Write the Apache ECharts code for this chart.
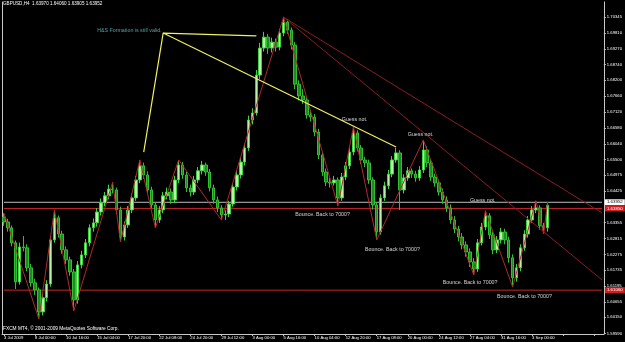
<!DOCTYPE html>
<html>
<head>
<meta charset="utf-8">
<script src="https://cdn.jsdelivr.net/npm/echarts@6/dist/echarts.min.js"></script>
<style>
  html, body { margin: 0; padding: 0; background: #000; }
  #main { width: 625px; height: 342px; }
</style>
</head>
<body>
<div id="main"></div>
<script>
// GBPUSD H4, one candle per 8 hours
var timeLabels = ['3 Jul 2009', '8 Jul 00:00', '10 Jul 16:00', '15 Jul 04:00', '17 Jul 20:00', '22 Jul 08:00',
  '24 Jul 20:00', '29 Jul 12:00', '3 Aug 00:00', '5 Aug 16:00', '10 Aug 04:00', '12 Aug 20:00',
  '17 Aug 08:00', '20 Aug 00:00', '24 Aug 12:00', '27 Aug 04:00', '31 Aug 16:00', '3 Sep 00:00'];

var priceTicks = ['1.70890', '1.70345', '1.69810', '1.69270', '1.68740', '1.68200', '1.67660', '1.67120',
  '1.66580', '1.66040', '1.65500', '1.64975', '1.64425', '1.63355', '1.62815', '1.62275', '1.61735',
  '1.61195', '1.60655', '1.60150', '1.59590'];

var opens = [1.6355, 1.6338, 1.6318, 1.6267, 1.6134, 1.6253, 1.6250, 1.6182, 1.6131, 1.6107,
  1.6032, 1.6080, 1.6127, 1.6277, 1.6352, 1.6297, 1.6243, 1.6209, 1.6168, 1.6073,
  1.6192, 1.6226, 1.6267, 1.6318, 1.6335, 1.6372, 1.6403, 1.6427, 1.6450, 1.6447,
  1.6379, 1.6287, 1.6328, 1.6379, 1.6420, 1.6481, 1.6529, 1.6498, 1.6447, 1.6396,
  1.6345, 1.6379, 1.6427, 1.6440, 1.6413, 1.6481, 1.6532, 1.6498, 1.6454, 1.6440,
  1.6481, 1.6512, 1.6532, 1.6508, 1.6454, 1.6413, 1.6386, 1.6362, 1.6365, 1.6399,
  1.6457, 1.6498, 1.6542, 1.6590, 1.6685, 1.6709, 1.6838, 1.6930, 1.6967, 1.6930,
  1.6950, 1.6933, 1.6981, 1.7018, 1.6991, 1.6940, 1.6807, 1.6767, 1.6753, 1.6702,
  1.6695, 1.6644, 1.6566, 1.6508, 1.6474, 1.6471, 1.6481, 1.6420, 1.6491, 1.6529,
  1.6576, 1.6641, 1.6590, 1.6549, 1.6539, 1.6481, 1.6396, 1.6304, 1.6420, 1.6461,
  1.6501, 1.6549, 1.6573, 1.6447, 1.6488, 1.6512, 1.6501, 1.6488, 1.6515, 1.6583,
  1.6539, 1.6491, 1.6471, 1.6440, 1.6413, 1.6386, 1.6345, 1.6314, 1.6287, 1.6260,
  1.6236, 1.6202, 1.6178, 1.6267, 1.6321, 1.6359, 1.6294, 1.6243, 1.6277, 1.6304,
  1.6277, 1.6216, 1.6148, 1.6182, 1.6250, 1.6297, 1.6345, 1.6379, 1.6386, 1.6325,
  1.6318];

var closes = [1.6338, 1.6318, 1.6267, 1.6134, 1.6253, 1.6250, 1.6182, 1.6131, 1.6107, 1.6032,
  1.6080, 1.6127, 1.6277, 1.6352, 1.6297, 1.6243, 1.6209, 1.6168, 1.6073, 1.6192,
  1.6226, 1.6267, 1.6318, 1.6335, 1.6372, 1.6403, 1.6427, 1.6450, 1.6447, 1.6379,
  1.6287, 1.6328, 1.6379, 1.6420, 1.6481, 1.6529, 1.6498, 1.6447, 1.6396, 1.6345,
  1.6379, 1.6427, 1.6440, 1.6413, 1.6481, 1.6532, 1.6498, 1.6454, 1.6440, 1.6481,
  1.6512, 1.6532, 1.6508, 1.6454, 1.6413, 1.6386, 1.6362, 1.6365, 1.6399, 1.6457,
  1.6498, 1.6542, 1.6590, 1.6685, 1.6709, 1.6838, 1.6930, 1.6967, 1.6930, 1.6950,
  1.6933, 1.6981, 1.7018, 1.6991, 1.6940, 1.6807, 1.6767, 1.6753, 1.6702, 1.6695,
  1.6644, 1.6566, 1.6508, 1.6474, 1.6471, 1.6481, 1.6420, 1.6491, 1.6529, 1.6576,
  1.6641, 1.6590, 1.6549, 1.6539, 1.6481, 1.6396, 1.6304, 1.6420, 1.6461, 1.6501,
  1.6549, 1.6573, 1.6447, 1.6488, 1.6512, 1.6501, 1.6488, 1.6515, 1.6583, 1.6539,
  1.6491, 1.6471, 1.6440, 1.6413, 1.6386, 1.6345, 1.6314, 1.6287, 1.6260, 1.6236,
  1.6202, 1.6178, 1.6267, 1.6321, 1.6359, 1.6294, 1.6243, 1.6277, 1.6304, 1.6277,
  1.6216, 1.6148, 1.6182, 1.6250, 1.6297, 1.6345, 1.6379, 1.6386, 1.6325, 1.6318,
  1.6395];

var lows = [1.6325, 1.6305, 1.6255, 1.6110, 1.6125, 1.6238, 1.6170, 1.6118, 1.6090, 1.6008,
  1.6020, 1.6068, 1.6118, 1.6268, 1.6285, 1.6230, 1.6195, 1.6155, 1.6036, 1.6060,
  1.6180, 1.6215, 1.6255, 1.6305, 1.6322, 1.6360, 1.6392, 1.6415, 1.6435, 1.6365,
  1.6270, 1.6275, 1.6318, 1.6368, 1.6410, 1.6470, 1.6485, 1.6435, 1.6385, 1.6318,
  1.6335, 1.6368, 1.6415, 1.6400, 1.6402, 1.6470, 1.6485, 1.6440, 1.6425, 1.6430,
  1.6470, 1.6500, 1.6495, 1.6442, 1.6400, 1.6372, 1.6345, 1.6345, 1.6355, 1.6390,
  1.6445, 1.6486, 1.6530, 1.6580, 1.6670, 1.6700, 1.6825, 1.6918, 1.6910, 1.6915,
  1.6918, 1.6922, 1.6970, 1.6978, 1.6925, 1.6790, 1.6752, 1.6740, 1.6690, 1.6680,
  1.6630, 1.6552, 1.6495, 1.6460, 1.6455, 1.6462, 1.6393, 1.6410, 1.6480, 1.6518,
  1.6565, 1.6578, 1.6535, 1.6525, 1.6468, 1.6380, 1.6277, 1.6295, 1.6410, 1.6450,
  1.6490, 1.6540, 1.6379, 1.6435, 1.6478, 1.6488, 1.6475, 1.6478, 1.6505, 1.6525,
  1.6478, 1.6458, 1.6428, 1.6400, 1.6372, 1.6332, 1.6300, 1.6272, 1.6245, 1.6220,
  1.6185, 1.6158, 1.6168, 1.6258, 1.6310, 1.6280, 1.6228, 1.6232, 1.6265, 1.6262,
  1.6200, 1.6117, 1.6135, 1.6170, 1.6240, 1.6285, 1.6335, 1.6368, 1.6312, 1.6297,
  1.6305];

var highs = [1.6368, 1.6349, 1.6326, 1.6275, 1.6268, 1.6290, 1.6262, 1.6195, 1.6145, 1.6115,
  1.6095, 1.6140, 1.6290, 1.6379, 1.6360, 1.6308, 1.6255, 1.6220, 1.6178, 1.6205,
  1.6240, 1.6280, 1.6330, 1.6350, 1.6385, 1.6418, 1.6440, 1.6465, 1.6474, 1.6455,
  1.6390, 1.6340, 1.6392, 1.6435, 1.6495, 1.6549, 1.6540, 1.6510, 1.6458, 1.6405,
  1.6392, 1.6440, 1.6455, 1.6452, 1.6495, 1.6549, 1.6542, 1.6508, 1.6465, 1.6495,
  1.6525, 1.6546, 1.6540, 1.6518, 1.6465, 1.6425, 1.6395, 1.6378, 1.6410, 1.6470,
  1.6512, 1.6556, 1.6605, 1.6700, 1.6725, 1.6855, 1.6948, 1.6985, 1.6978, 1.6965,
  1.6962, 1.6995, 1.7035, 1.7028, 1.7000, 1.6950, 1.6820, 1.6790, 1.6765, 1.6715,
  1.6705, 1.6655, 1.6575, 1.6520, 1.6488, 1.6495, 1.6490, 1.6505, 1.6542, 1.6590,
  1.6661, 1.6650, 1.6600, 1.6560, 1.6550, 1.6490, 1.6405, 1.6432, 1.6475, 1.6515,
  1.6562, 1.6590, 1.6582, 1.6500, 1.6525, 1.6520, 1.6512, 1.6528, 1.6617, 1.6595,
  1.6550, 1.6502, 1.6482, 1.6452, 1.6425, 1.6398, 1.6358, 1.6325, 1.6300, 1.6272,
  1.6248, 1.6215, 1.6280, 1.6335, 1.6376, 1.6368, 1.6305, 1.6290, 1.6318, 1.6315,
  1.6288, 1.6228, 1.6195, 1.6262, 1.6310, 1.6358, 1.6392, 1.6410, 1.6395, 1.6335,
  1.6406];

// zigzag swing points: [candle index, price]
var zigzag = [[0, 1.6368], [9, 1.6008], [13, 1.6379], [18, 1.6036], [28, 1.6474], [30, 1.6270],
  [35, 1.6549], [39, 1.6318], [45, 1.6549], [56, 1.6345], [72, 1.7035], [86, 1.6393],
  [90, 1.6661], [96, 1.6277], [108, 1.6617], [121, 1.6158], [124, 1.6376], [131, 1.6117],
  [137, 1.6410], [139, 1.6297], [140, 1.6406]];

var trendUpper = [[72, 1.7035], [154, 1.6369]];
var trendLower = [[72, 1.7035], [154, 1.6141]];
var shoulderLine = [[36, 1.6576], [41, 1.6981], [65, 1.6971]];
var neckLine = [[41, 1.6981], [101, 1.6593]];

var notes = [[24, 1.6988, 'H&S Formation is still valid.', '#5fc9c9'],
  [87, 1.6685, 'Guess not.', '#ffffff'],
  [104, 1.6637, 'Guess not.', '#ffffff'],
  [120, 1.6410, 'Guess not.', '#ffffff'],
  [75, 1.6365, 'Bounce. Back to 7000?', '#ffffff'],
  [93, 1.6243, 'Bounce. Back to 7000?', '#ffffff'],
  [113, 1.6131, 'Bounce. Back to 7000?', '#ffffff'],
  [127, 1.6083, 'Bounce. Back to 7000?', '#ffffff']];

// horizontal levels: price and the text of their box on the price scale
var bidPrice = 1.6405, bidText = '1.63952';
var redPrices = [1.6384, 1.6106];
var redTexts = ['1.63850', '1.61060'];

var slots = 155;
var cats = [];
for (var i = 0; i < slots; i++) cats.push(i);

var candles = opens.map(function (o, i) {
  return [o, closes[i], lows[i], highs[i]];
});

var font = 'Liberation Sans';
var yMin = 1.59568, yMax = 1.70866;

function levelSeries(price, text, lineColor, boxColor, textColor) {
  return {
    type: 'line',
    data: [[0, price], [slots - 1, price]],
    symbol: 'none',
    silent: true,
    z: 2,
    lineStyle: { color: lineColor, width: 1 },
    endLabel: {
      show: true,
      distance: 3,
      formatter: text,
      color: textColor,
      backgroundColor: boxColor,
      padding: [1, 2],
      fontSize: 4.4,
      fontFamily: font
    },
    labelLayout: { hideOverlap: false }
  };
}

var chart = echarts.init(document.getElementById('main'));
var option = {
  backgroundColor: '#000000',
  animation: false,
  title: [
    {
      text: 'GBPUSD,H4  1.63970 1.64060 1.63905 1.63952',
      left: 3, top: 1, padding: 0,
      textStyle: { color: '#ffffff', fontSize: 4.6, fontWeight: 'normal', fontFamily: font }
    },
    {
      text: 'FXCM MT4, © 2001-2009 MetaQuotes Software Corp.',
      left: 3, top: 326, padding: 0,
      textStyle: { color: '#ffffff', fontSize: 4.8, fontWeight: 'normal', fontFamily: font }
    }
  ],
  grid: { left: 2, right: 19, top: 2, bottom: 8 },
  xAxis: {
    type: 'category',
    data: cats,
    boundaryGap: true,
    axisLine: { lineStyle: { color: '#c8c8c8', width: 1 } },
    axisTick: { show: true, interval: 7, length: 2, alignWithLabel: true, lineStyle: { color: '#c8c8c8' } },
    axisLabel: {
      interval: 7,
      margin: 2,
      align: 'left',
      color: '#ffffff',
      fontSize: 4.2,
      fontFamily: font,
      formatter: function (v, idx) { return idx % 8 === 0 ? (timeLabels[idx / 8] || '') : ''; }
    },
    splitLine: { show: false }
  },
  yAxis: [
    {
      type: 'value',
      position: 'right',
      min: yMin,
      max: yMax,
      axisLine: { show: true, lineStyle: { color: '#c8c8c8', width: 1 } },
      axisTick: {
        show: true, length: 2, lineStyle: { color: '#c8c8c8' },
        customValues: priceTicks.map(Number)
      },
      axisLabel: {
        margin: 3,
        color: '#ffffff',
        fontSize: 4.2,
        fontFamily: font,
        customValues: priceTicks.map(Number),
        formatter: function (v) { return v.toFixed(5); }
      },
      splitLine: { show: false }
    },
    {
      type: 'value',
      position: 'left',
      min: yMin,
      max: yMax,
      axisLine: { show: true, lineStyle: { color: '#c8c8c8', width: 1 } },
      axisTick: { show: false },
      axisLabel: { show: false },
      splitLine: { show: false }
    }
  ],
  series: [
    {
      type: 'candlestick',
      data: candles,
      barWidth: 3,
      itemStyle: {
        color: '#b8f0a8',
        borderColor: '#3fd23f',
        color0: '#1f8a1f',
        borderColor0: '#31c031',
        borderWidth: 1
      }
    },
    levelSeries(bidPrice, bidText, '#bcbcbc', '#ffffff', '#000000'),
    levelSeries(redPrices[0], redTexts[0], '#c02828', '#d41c1c', '#ffffff'),
    levelSeries(redPrices[1], redTexts[1], '#c02828', '#d41c1c', '#ffffff'),
    {
      type: 'line',
      data: zigzag,
      symbol: 'none',
      lineStyle: { color: '#b02a2a', width: 1 },
      z: 3
    },
    {
      type: 'line',
      data: trendUpper,
      symbol: 'none',
      lineStyle: { color: '#8c1e1e', width: 1 },
      z: 3
    },
    {
      type: 'line',
      data: trendLower,
      symbol: 'none',
      lineStyle: { color: '#8c1e1e', width: 1 },
      z: 3
    },
    {
      type: 'line',
      data: shoulderLine,
      symbol: 'none',
      lineStyle: { color: '#f0f060', width: 1.2 },
      z: 4
    },
    {
      type: 'line',
      data: neckLine,
      symbol: 'none',
      lineStyle: { color: '#f0f060', width: 1.2 },
      z: 4
    },
    {
      type: 'scatter',
      data: notes.map(function (n) {
        return { value: [n[0], n[1], n[2]], label: { color: n[3] } };
      }),
      symbolSize: 0,
      z: 5,
      label: {
        show: true,
        position: 'right',
        distance: 0,
        fontSize: 5.3,
        fontFamily: font,
        formatter: function (p) { return p.value[2]; }
      },
      labelLayout: { hideOverlap: false },
      itemStyle: { color: 'transparent' }
    }
  ]
};

chart.setOption(option);
</script>
</body>
</html>
